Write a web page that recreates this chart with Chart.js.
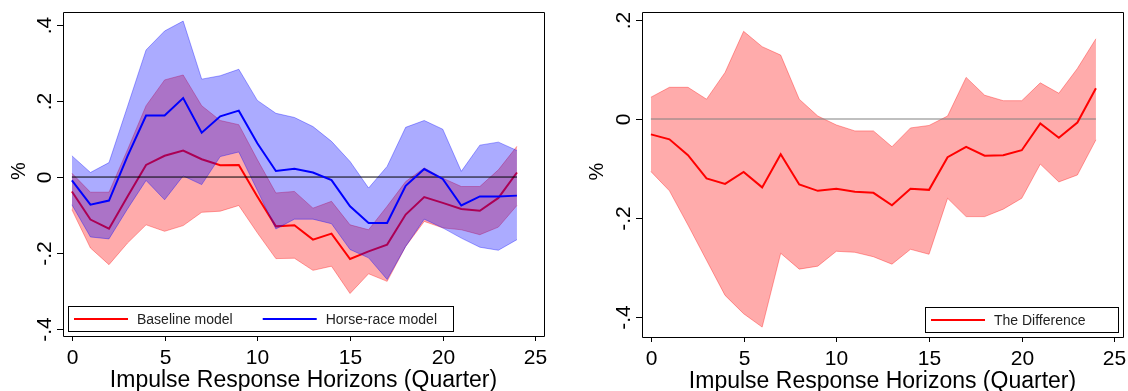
<!DOCTYPE html>
<html>
<head>
<meta charset="utf-8">
<script src="https://cdn.jsdelivr.net/npm/chart.js@4.4.1/dist/chart.umd.min.js"></script>
<style>
  html, body { margin: 0; padding: 0; background: #fff; }
  #wrap { position: relative; width: 1128px; height: 391px; }
  canvas { position: absolute; top: 0; }
  #leftChart { left: 0; }
  #rightChart { left: 564px; }
</style>
</head>
<body>
<div id="wrap">
  <canvas id="leftChart" width="564" height="391"></canvas>
  <canvas id="rightChart" width="564" height="391"></canvas>
</div>
<script>
// 横軸: インパルス応答の期間 (四半期)
const horizons = [0, 1, 2, 3, 4, 5, 6, 7, 8, 9, 10, 11, 12, 13, 14, 15, 16, 17, 18, 19, 20, 21, 22, 23, 24];

// 左パネル: Baseline model
const baseline      = [-0.038, -0.112, -0.136, -0.051, 0.032, 0.056, 0.070, 0.047, 0.031, 0.032, -0.051, -0.130, -0.127, -0.165, -0.149, -0.216, -0.196, -0.178, -0.099, -0.053, -0.068, -0.084, -0.089, -0.055, 0.012];
const baselineUpper = [0.010, -0.040, -0.040, 0.072, 0.188, 0.256, 0.269, 0.188, 0.149, 0.138, 0.046, -0.042, -0.038, -0.082, -0.064, -0.126, -0.139, -0.077, -0.012, 0.024, -0.003, -0.025, -0.025, 0.019, 0.081];
const baselineLower = [-0.086, -0.187, -0.231, -0.174, -0.126, -0.143, -0.128, -0.093, -0.090, -0.075, -0.147, -0.215, -0.214, -0.246, -0.235, -0.307, -0.255, -0.275, -0.183, -0.117, -0.134, -0.139, -0.152, -0.132, -0.075];

// 左パネル: Horse-race model
const horseRace      = [-0.009, -0.073, -0.062, 0.055, 0.162, 0.162, 0.208, 0.117, 0.160, 0.175, 0.089, 0.016, 0.022, 0.012, -0.008, -0.077, -0.121, -0.121, -0.023, 0.021, -0.005, -0.075, -0.051, -0.051, -0.049];
const horseRaceUpper = [0.056, 0.012, 0.038, 0.186, 0.335, 0.385, 0.411, 0.258, 0.267, 0.284, 0.202, 0.168, 0.157, 0.133, 0.094, 0.041, -0.029, 0.028, 0.131, 0.149, 0.126, 0.015, 0.084, 0.092, 0.070];
const horseRaceLower = [-0.073, -0.158, -0.163, -0.084, -0.009, -0.060, 0.003, -0.020, 0.054, 0.066, -0.035, -0.137, -0.111, -0.111, -0.123, -0.191, -0.213, -0.270, -0.183, -0.111, -0.134, -0.161, -0.185, -0.193, -0.165];

// 右パネル: The Difference
const difference      = [-0.031, -0.041, -0.073, -0.120, -0.131, -0.107, -0.138, -0.071, -0.132, -0.145, -0.141, -0.147, -0.149, -0.174, -0.141, -0.143, -0.077, -0.056, -0.074, -0.073, -0.063, -0.009, -0.038, -0.007, 0.062];
const differenceUpper = [0.044, 0.064, 0.064, 0.040, 0.094, 0.177, 0.146, 0.129, 0.040, 0.006, -0.012, -0.024, -0.024, -0.056, -0.018, -0.013, 0.006, 0.084, 0.048, 0.037, 0.037, 0.073, 0.052, 0.102, 0.162];
const differenceLower = [-0.106, -0.145, -0.214, -0.285, -0.356, -0.393, -0.420, -0.271, -0.303, -0.297, -0.267, -0.269, -0.278, -0.293, -0.263, -0.273, -0.160, -0.197, -0.197, -0.182, -0.160, -0.091, -0.127, -0.113, -0.042];

// 目盛り
const xTicks = [0, 5, 10, 15, 20, 25];
const xTickLabels = ['0', '5', '10', '15', '20', '25'];
const yTicksLeft = [-0.4, -0.2, 0, 0.2, 0.4];
const yTickLabelsLeft = ['-.4', '-.2', '0', '.2', '.4'];
const yTicksRight = [-0.4, -0.2, 0, 0.2];
const yTickLabelsRight = ['-.4', '-.2', '0', '.2'];
const zeroLine = [0, 0];
const zeroLineX = [0, 24];

const xTitle = 'Impulse Response Horizons (Quarter)';
const yTitle = '%';

const FONT = '"Liberation Sans", Arial, Helvetica, sans-serif';
const RED = '#ff0000';
const BLUE = '#0000ff';
const RED_FILL = 'rgba(255, 0, 0, 0.33)';
const RED_EDGE = 'rgba(255, 0, 0, 0.35)';
const BLUE_FILL = 'rgba(0, 0, 255, 0.33)';
const BLUE_EDGE = 'rgba(0, 0, 255, 0.35)';

function toPoints(values, xs) {
  xs = xs || horizons;
  return values.map((v, i) => ({ x: xs[i], y: v }));
}

// Stata風の枠・目盛り・ラベル・凡例を描くプラグイン
const stataLook = {
  id: 'stataLook',
  afterDraw(chart, args, opts) {
    const ctx = chart.ctx;
    const a = chart.chartArea;
    const xs = chart.scales.x;
    const ys = chart.scales.y;
    ctx.save();

    // 枠
    ctx.strokeStyle = '#000';
    ctx.lineWidth = 1;
    ctx.beginPath();
    ctx.rect(Math.round(a.left) + 0.5, Math.round(a.top) + 0.5,
      Math.round(a.right - a.left), Math.round(a.bottom - a.top));
    ctx.stroke();

    ctx.fillStyle = '#000';

    // x軸の目盛り
    ctx.font = '21px ' + FONT;
    ctx.textAlign = 'center';
    ctx.textBaseline = 'alphabetic';
    opts.xTicks.forEach((v, i) => {
      const px = Math.round(xs.getPixelForValue(v)) + 0.5;
      ctx.beginPath();
      ctx.moveTo(px, a.bottom);
      ctx.lineTo(px, a.bottom + 5);
      ctx.stroke();
      ctx.fillText(opts.xLabels[i], px, a.bottom + 28);
    });

    // y軸の目盛り (90度回転)
    opts.yTicks.forEach((v, i) => {
      const py = Math.round(ys.getPixelForValue(v)) + 0.5;
      ctx.beginPath();
      ctx.moveTo(a.left - 6, py);
      ctx.lineTo(a.left, py);
      ctx.stroke();
      ctx.save();
      ctx.translate(a.left - 12.5, py);
      ctx.rotate(-Math.PI / 2);
      ctx.fillText(opts.yLabels[i], 0, 0);
      ctx.restore();
    });

    // 軸タイトル
    ctx.font = '23px ' + FONT;
    ctx.fillText(opts.xTitle, (a.left + a.right) / 2, a.bottom + 50.5);
    ctx.save();
    ctx.font = '20px ' + FONT;
    ctx.translate(a.left - opts.yTitleOffset, (a.top + a.bottom) / 2 - 3);
    ctx.rotate(-Math.PI / 2);
    ctx.fillText(opts.yTitle, 0, 0);
    ctx.restore();

    // 凡例
    const lg = opts.legend;
    const boxH = 25;
    const boxTop = a.bottom - 30;
    const boxLeft = lg.align === 'left' ? a.left + 5 : a.right - 5 - lg.width;
    ctx.fillStyle = '#fff';
    ctx.fillRect(boxLeft, boxTop, lg.width, boxH);
    ctx.strokeStyle = '#000';
    ctx.lineWidth = 1;
    ctx.strokeRect(Math.round(boxLeft) + 0.5, Math.round(boxTop) + 0.5, Math.round(lg.width), boxH);

    ctx.font = '14px ' + FONT;
    ctx.textAlign = 'left';
    const cy = boxTop + boxH / 2 + 0.5;
    let x = boxLeft + 6;
    lg.items.forEach(item => {
      ctx.strokeStyle = item.color;
      ctx.lineWidth = 2;
      ctx.beginPath();
      ctx.moveTo(x, cy);
      ctx.lineTo(x + 54, cy);
      ctx.stroke();
      ctx.fillStyle = '#222';
      ctx.fillText(item.label, x + 63, cy + 5);
      x += 63 + ctx.measureText(item.label).width + 30;
    });

    ctx.restore();
  }
};

function baseOptions(yMin, yMax, padding, look) {
  return {
    responsive: false,
    devicePixelRatio: 1,
    animation: false,
    layout: { padding: padding },
    elements: {
      point: { radius: 0 },
      line: { tension: 0 }
    },
    scales: {
      x: { type: 'linear', display: false, min: -0.48, max: 25.46 },
      y: { type: 'linear', display: false, min: yMin, max: yMax }
    },
    plugins: {
      legend: { display: false },
      tooltip: { enabled: false },
      filler: { propagate: false },
      stataLook: look
    }
  };
}

// 左パネル
new Chart(document.getElementById('leftChart').getContext('2d'), {
  type: 'line',
  data: {
    datasets: [
      { label: 'Horse-race model', data: toPoints(horseRace), borderColor: BLUE, borderWidth: 2, fill: false, order: 0 },
      { label: 'zero', data: toPoints(zeroLine, zeroLineX), borderColor: '#000', borderWidth: 1, fill: false, order: 1 },
      { label: 'Horse-race upper', data: toPoints(horseRaceUpper), borderColor: BLUE_EDGE, borderWidth: 1, backgroundColor: BLUE_FILL, fill: '+1', order: 2 },
      { label: 'Horse-race lower', data: toPoints(horseRaceLower), borderColor: BLUE_EDGE, borderWidth: 1, fill: false, order: 3 },
      { label: 'Baseline model', data: toPoints(baseline), borderColor: RED, borderWidth: 2, fill: false, order: 4 },
      { label: 'Baseline upper', data: toPoints(baselineUpper), borderColor: RED_EDGE, borderWidth: 1, backgroundColor: RED_FILL, fill: '+1', order: 5 },
      { label: 'Baseline lower', data: toPoints(baselineLower), borderColor: RED_EDGE, borderWidth: 1, fill: false, order: 6 }
    ]
  },
  options: baseOptions(-0.419, 0.435, { left: 63, top: 12, right: 20, bottom: 55 }, {
    xTicks: xTicks, xLabels: xTickLabels,
    yTicks: yTicksLeft, yLabels: yTickLabelsLeft,
    xTitle: xTitle, yTitle: yTitle, yTitleOffset: 38,
    legend: {
      align: 'left', width: 385,
      items: [{ label: 'Baseline model', color: RED }, { label: 'Horse-race model', color: BLUE }]
    }
  }),
  plugins: [stataLook]
});

// 右パネル
new Chart(document.getElementById('rightChart').getContext('2d'), {
  type: 'line',
  data: {
    datasets: [
      { label: 'The Difference', data: toPoints(difference), borderColor: RED, borderWidth: 2, fill: false, order: 0 },
      { label: 'zero', data: toPoints(zeroLine, zeroLineX), borderColor: '#808080', borderWidth: 1, fill: false, order: 1 },
      { label: 'Difference upper', data: toPoints(differenceUpper), borderColor: RED_EDGE, borderWidth: 1, backgroundColor: RED_FILL, fill: '+1', order: 2 },
      { label: 'Difference lower', data: toPoints(differenceLower), borderColor: RED_EDGE, borderWidth: 1, fill: false, order: 3 }
    ]
  },
  options: baseOptions(-0.44, 0.216, { left: 78, top: 12, right: 5, bottom: 54 }, {
    xTicks: xTicks, xLabels: xTickLabels,
    yTicks: yTicksRight, yLabels: yTickLabelsRight,
    xTitle: xTitle, yTitle: yTitle, yTitleOffset: 39,
    legend: {
      align: 'right', width: 193,
      items: [{ label: 'The Difference', color: RED }]
    }
  }),
  plugins: [stataLook]
});
</script>
</body>
</html>
